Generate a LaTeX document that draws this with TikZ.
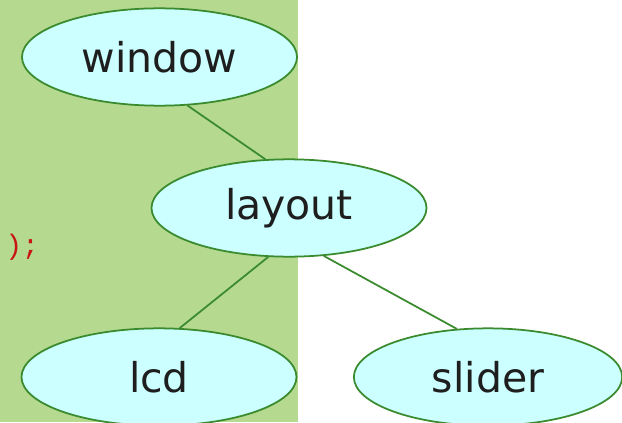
\documentclass[tikz,border=0pt]{standalone}
\usepackage{fontspec}
\setmainfont{DejaVu Sans}
\newfontfamily\codefont{Liberation Mono}
\usetikzlibrary{shapes.geometric}
\definecolor{slidegreen}{RGB}{181,218,143}
\definecolor{nodecyan}{RGB}{204,255,255}
\definecolor{edgegreen}{RGB}{58,138,46}
\definecolor{codered}{RGB}{200,20,20}
\definecolor{textdark}{RGB}{30,30,30}

\begin{document}
\begin{tikzpicture}[x=0.03cm,y=-0.03cm,semithick]
		\tikzstyle{widget}=[ellipse,draw=edgegreen,line width=1.5pt,fill=nodecyan,text=textdark,
			minimum width=8.25cm,minimum height=2.92cm,inner sep=0pt,font=\fontsize{35}{40}\selectfont]
		\tikzstyle{link}=[draw=edgegreen,line width=1.5pt]
		\clip (0,0) rectangle (622,422);
		\fill[slidegreen] (0,0) rectangle (298,422);
		\node[text=codered,font=\codefont\fontsize{24}{28}\selectfont,anchor=west] (code) at (1,247) {);};
		\node[widget]    (window)   at (159.5,57)   {window};
		\node[widget]    (layout)   at (289,208)    {layout};
		\node[widget]    (lcd)      at (159,377)    {lcd};
		\node[widget,minimum width=8.05cm]    (slider)   at (488,377)    {slider};
		\path[link]
		(window.-60) edge (layout.116)
		(layout.-113) edge (lcd.67)
		(layout.-54) edge (slider.123);
	\end{tikzpicture}
\end{document}
